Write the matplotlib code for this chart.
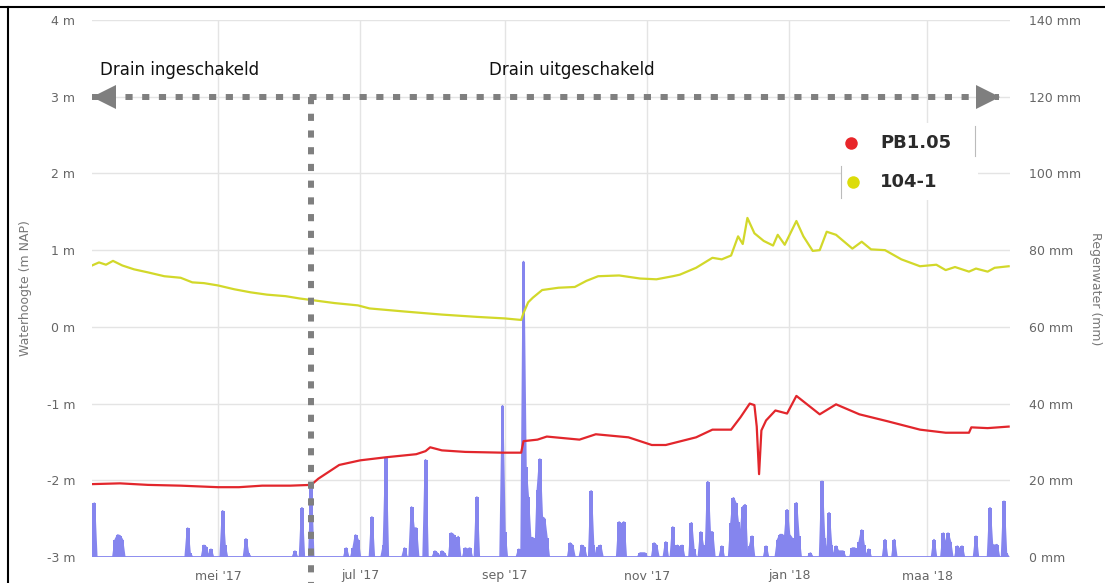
import matplotlib
matplotlib.use("Agg")
import matplotlib.pyplot as plt
import pandas as pd
from matplotlib.transforms import offset_copy
from matplotlib.lines import Line2D
from matplotlib.patches import Rectangle

# --- data ---
pb_dates = ['2017-03-08', '2017-03-20', '2017-04-01', '2017-04-15', '2017-05-01', '2017-05-10',
            '2017-05-20', '2017-06-01', '2017-06-10', '2017-06-13', '2017-06-22', '2017-07-01',
            '2017-07-12', '2017-07-25', '2017-07-29', '2017-07-31', '2017-08-05', '2017-08-15',
            '2017-08-31', '2017-09-08', '2017-09-09', '2017-09-15', '2017-09-19', '2017-10-03',
            '2017-10-10', '2017-10-24', '2017-10-27', '2017-11-03', '2017-11-09', '2017-11-22',
            '2017-11-29', '2017-12-07', '2017-12-11', '2017-12-15', '2017-12-17', '2017-12-18',
            '2017-12-19', '2017-12-20', '2017-12-22', '2017-12-26', '2017-12-31', '2018-01-04',
            '2018-01-14', '2018-01-21', '2018-01-31', '2018-02-12', '2018-02-26', '2018-03-09',
            '2018-03-19', '2018-03-20', '2018-03-27', '2018-04-05']
pb_level = [-2.05, -2.04, -2.06, -2.07, -2.09, -2.09,
            -2.07, -2.07, -2.06, -1.98, -1.80, -1.74,
            -1.70, -1.66, -1.62, -1.57, -1.61, -1.63,
            -1.64, -1.64, -1.49, -1.47, -1.43, -1.47,
            -1.40, -1.44, -1.47, -1.54, -1.54, -1.44,
            -1.34, -1.34, -1.18, -1.00, -1.02, -1.30,
            -1.92, -1.35, -1.22, -1.09, -1.13, -0.90,
            -1.14, -1.01, -1.14, -1.23, -1.34, -1.38,
            -1.38, -1.31, -1.32, -1.30]

w104_dates = ['2017-03-08', '2017-03-11', '2017-03-14', '2017-03-17', '2017-03-21', '2017-03-26',
              '2017-04-01', '2017-04-08', '2017-04-15', '2017-04-20', '2017-04-25', '2017-05-01',
              '2017-05-08', '2017-05-15', '2017-05-22', '2017-05-30', '2017-06-05', '2017-06-10',
              '2017-06-20', '2017-06-30', '2017-07-05', '2017-07-20', '2017-08-05', '2017-08-20',
              '2017-09-01', '2017-09-08', '2017-09-09', '2017-09-11', '2017-09-13', '2017-09-17',
              '2017-09-24', '2017-10-01', '2017-10-06', '2017-10-11', '2017-10-20', '2017-10-29',
              '2017-11-05', '2017-11-12', '2017-11-15', '2017-11-22', '2017-11-29', '2017-12-03',
              '2017-12-07', '2017-12-10', '2017-12-12', '2017-12-14', '2017-12-17', '2017-12-21',
              '2017-12-25', '2017-12-27', '2017-12-30', '2018-01-04', '2018-01-07', '2018-01-11',
              '2018-01-14', '2018-01-17', '2018-01-21', '2018-01-28', '2018-02-01', '2018-02-05',
              '2018-02-11', '2018-02-18', '2018-02-26', '2018-03-05', '2018-03-09', '2018-03-13',
              '2018-03-19', '2018-03-22', '2018-03-27', '2018-03-30', '2018-04-05']
w104_level = [0.80, 0.84, 0.81, 0.86, 0.80, 0.75,
              0.71, 0.66, 0.64, 0.58, 0.57, 0.54,
              0.49, 0.45, 0.42, 0.40, 0.37, 0.35,
              0.31, 0.28, 0.24, 0.20, 0.16, 0.13,
              0.11, 0.09, 0.18, 0.32, 0.38, 0.48,
              0.51, 0.52, 0.60, 0.66, 0.67, 0.63,
              0.62, 0.66, 0.68, 0.77, 0.90, 0.88,
              0.93, 1.18, 1.08, 1.42, 1.22, 1.12,
              1.06, 1.20, 1.07, 1.38, 1.18, 0.99,
              1.00, 1.24, 1.20, 1.02, 1.11, 1.01,
              1.00, 0.88, 0.79, 0.81, 0.74, 0.78,
              0.72, 0.76, 0.72, 0.77, 0.79]

rain_dates = ['2017-03-09', '2017-03-18', '2017-03-19', '2017-03-20', '2017-03-21', '2017-04-18',
              '2017-04-19', '2017-04-25', '2017-04-26', '2017-04-28', '2017-05-03', '2017-05-04',
              '2017-05-13', '2017-05-14', '2017-06-03', '2017-06-06', '2017-06-10', '2017-06-25',
              '2017-06-28', '2017-06-29', '2017-06-30', '2017-07-06', '2017-07-11', '2017-07-12',
              '2017-07-20', '2017-07-23', '2017-07-24', '2017-07-25', '2017-07-29', '2017-08-02',
              '2017-08-03', '2017-08-05', '2017-08-06', '2017-08-09', '2017-08-10', '2017-08-12',
              '2017-08-15', '2017-08-16', '2017-08-17', '2017-08-20', '2017-08-31', '2017-09-01',
              '2017-09-07', '2017-09-09', '2017-09-10', '2017-09-11', '2017-09-12', '2017-09-13',
              '2017-09-15', '2017-09-16', '2017-09-17', '2017-09-18', '2017-09-19', '2017-09-29',
              '2017-09-30', '2017-10-04', '2017-10-05', '2017-10-08', '2017-10-09', '2017-10-11',
              '2017-10-12', '2017-10-20', '2017-10-21', '2017-10-22', '2017-10-29', '2017-10-30',
              '2017-10-31', '2017-11-04', '2017-11-05', '2017-11-09', '2017-11-12', '2017-11-14',
              '2017-11-15', '2017-11-16', '2017-11-20', '2017-11-21', '2017-11-24', '2017-11-25',
              '2017-11-27', '2017-11-28', '2017-11-29', '2017-12-03', '2017-12-07', '2017-12-08',
              '2017-12-09', '2017-12-10', '2017-12-11', '2017-12-12', '2017-12-13', '2017-12-15',
              '2017-12-16', '2017-12-22', '2017-12-27', '2017-12-28', '2017-12-29', '2017-12-30',
              '2017-12-31', '2018-01-01', '2018-01-02', '2018-01-04', '2018-01-05', '2018-01-10',
              '2018-01-15', '2018-01-16', '2018-01-18', '2018-01-19', '2018-01-21', '2018-01-22',
              '2018-01-23', '2018-01-24', '2018-01-28', '2018-01-29', '2018-01-31', '2018-02-01',
              '2018-02-02', '2018-02-04', '2018-02-11', '2018-02-15', '2018-03-04', '2018-03-08',
              '2018-03-09', '2018-03-10', '2018-03-11', '2018-03-14', '2018-03-15', '2018-03-16',
              '2018-03-22', '2018-03-28', '2018-03-29', '2018-03-30', '2018-03-31', '2018-04-03',
              '2018-04-04']
rain_mm = [14.0, 4.5, 5.7, 5.5, 4.5, 7.5,
           1.0, 3.0, 2.5, 2.0, 12.0, 3.0,
           4.7, 1.0, 1.5, 12.8, 18.0, 2.3,
           2.3, 5.7, 4.5, 10.4, 3.0, 25.8,
           2.3, 13.0, 7.5, 7.5, 25.3, 1.5,
           1.0, 1.5, 1.0, 6.2, 5.8, 5.3,
           2.3, 2.0, 2.3, 15.6, 39.4, 6.5,
           2.0, 77.0, 23.5, 15.6, 5.0, 5.0,
           17.5, 25.5, 10.4, 10.0, 5.0, 3.6,
           3.0, 3.0, 2.5, 17.2, 3.0, 2.5,
           3.0, 9.1, 8.5, 9.1, 1.0, 1.0,
           1.0, 3.6, 3.0, 3.9, 7.8, 3.0,
           2.5, 3.0, 8.9, 2.0, 6.5, 3.0,
           19.6, 6.5, 6.5, 2.8, 8.9, 15.4,
           14.0, 9.0, 5.4, 13.0, 13.6, 2.8,
           5.4, 2.8, 4.5, 5.8, 5.8, 5.0,
           12.3, 5.8, 5.0, 14.1, 5.4, 1.0,
           19.7, 5.0, 11.5, 3.0, 2.8, 1.5,
           1.5, 1.5, 2.3, 2.3, 4.0, 7.0,
           3.0, 2.0, 4.5, 4.5, 4.5, 6.2,
           3.0, 6.2, 4.0, 2.8, 2.0, 2.8,
           5.4, 12.8, 3.2, 3.0, 3.2, 14.5,
           1.0]

tick_dates = ['2017-05-01', '2017-07-01', '2017-09-01', '2017-11-01', '2018-01-01', '2018-03-01']
tick_labels = ["mei '17", "jul '17", "sep '17", "nov '17", "jan '18", "maa '18"]
left_ticks = [-3, -2, -1, 0, 1, 2, 3, 4]
right_ticks = [0, 20, 40, 60, 80, 100, 120, 140]

drain_switch = '2017-06-10'
arrow_left = '2017-03-08'
arrow_right = '2018-04-01'

# daily rain series
days = pd.date_range('2017-03-08', '2018-04-05', freq='D')
rain = pd.Series(rain_mm, index=pd.to_datetime(rain_dates)).reindex(days, fill_value=0.0)

RED = '#e2262c'
YELLOW = '#d2d82a'
BLUE = '#8585ee'
GRID = '#e4e4e4'
TXT = '#666666'
ARROW = '#7f7f7f'

fig = plt.figure(figsize=(11.05, 5.83), dpi=100)
ax = fig.add_axes([92 / 1105, 26 / 583, 918 / 1105, 537 / 583])
ax2 = ax.twinx()
ax.set_zorder(2)
ax2.set_zorder(1)
ax.patch.set_visible(False)

xmin = pd.Timestamp('2017-03-08')
xmax = pd.Timestamp('2018-04-05 14:00')

# rain on the right axis
ax2.bar(rain.index, rain.values, width=1.7, color=BLUE, zorder=2, linewidth=0)
ax2.plot(rain.index, rain.values, color=BLUE, lw=1.3, zorder=2)
ax2.set_ylim(0, 140)
ax2.set_yticks(right_ticks)
ax2.set_yticklabels([f'{v} mm' for v in right_ticks])
ax2.grid(axis='y', color=GRID, lw=1, zorder=0)
for d in tick_dates:
    ax2.axvline(pd.Timestamp(d), color=GRID, lw=1, zorder=0)

# water levels on the left axis
ax.plot(pd.to_datetime(w104_dates), w104_level, color=YELLOW, lw=1.6, zorder=3)
ax.plot(pd.to_datetime(pb_dates), pb_level, color=RED, lw=1.6, zorder=3)
ax.set_ylim(-3, 4)
ax.set_yticks(left_ticks)
ax.set_yticklabels([f'{v} m' for v in left_ticks])
ax.set_xlim(xmin, xmax)
ax.set_xticks(pd.to_datetime(tick_dates))
ax.set_xticklabels(tick_labels)

for a in (ax, ax2):
    for s in a.spines.values():
        s.set_visible(False)
    a.tick_params(length=0, labelsize=9, labelcolor=TXT)
ax.tick_params(axis='y', pad=12)
ax.tick_params(axis='x', pad=9)
ax2.tick_params(axis='y', pad=14)

ax.set_ylabel('Waterhoogte (m NAP)', color='#777777', fontsize=9, labelpad=11)
ax2.set_ylabel('Regenwater (mm)', color='#777777', fontsize=9, rotation=270, labelpad=15)

# drain annotations: dotted lines with arrow heads
dash = dict(color=ARROW, lw=4.3, linestyle=(0, (1.2, 1.6)), dash_capstyle='butt', zorder=5)
ax.plot([pd.Timestamp(arrow_left), pd.Timestamp(arrow_right)], [3, 3], **dash)
ax.plot([pd.Timestamp(drain_switch)] * 2, [3, -3.45], clip_on=False, **dash)
tr_l = offset_copy(ax.transData, fig=fig, x=8.3, y=0, units='points')
tr_r = offset_copy(ax.transData, fig=fig, x=-8.3, y=0, units='points')
ax.plot([pd.Timestamp(arrow_left)], [3], marker='<', ms=16.6, mew=0, color=ARROW, transform=tr_l, zorder=6)
ax.plot([pd.Timestamp(arrow_right)], [3], marker='>', ms=16.6, mew=0, color=ARROW, transform=tr_r, zorder=6)

ax.text((100 - 92) / 918, (557 - 70) / 537, 'Drain ingeschakeld', transform=ax.transAxes,
        fontsize=12, color='#111111', va='center', ha='left')
ax.text((489 - 92) / 918, (557 - 70) / 537, 'Drain uitgeschakeld', transform=ax.transAxes,
        fontsize=12, color='#111111', va='center', ha='left')

# legend box (pasted in the reference)
ax.add_patch(Rectangle(((842 - 92) / 918, (557 - 200) / 537), 136 / 918, 77 / 537,
                       transform=ax.transAxes, facecolor='white', edgecolor='none', zorder=7))
ax.add_line(Line2D([(975 - 92) / 918] * 2, [(557 - 156) / 537, (557 - 126) / 537],
                   transform=ax.transAxes, color='#bbbbbb', lw=0.8, zorder=8))
ax.add_line(Line2D([(841 - 92) / 918] * 2, [(557 - 198) / 537, (557 - 166) / 537],
                   transform=ax.transAxes, color='#bbbbbb', lw=0.8, zorder=8))
ax.plot([(851 - 92) / 918], [(557 - 143) / 537], 'o', ms=9, color='#e8262a', mew=0,
        transform=ax.transAxes, zorder=8)
ax.plot([(853 - 92) / 918], [(557 - 182) / 537], 'o', ms=9, color='#dcdc0a', mew=0,
        transform=ax.transAxes, zorder=8)
ax.text((880 - 92) / 918, (557 - 143) / 537, 'PB1.05', transform=ax.transAxes, fontsize=13,
        fontweight='bold', color='#2b2b2b', va='center', ha='left', zorder=8)
ax.text((880 - 92) / 918, (557 - 182) / 537, '104-1', transform=ax.transAxes, fontsize=13,
        fontweight='bold', color='#2b2b2b', va='center', ha='left', zorder=8)

# outer frame edges visible in the reference
fig.add_artist(Line2D([0, 1], [1 - 6.5 / 583] * 2, color='black', lw=1.5))
fig.add_artist(Line2D([8 / 1105] * 2, [0, 1 - 6.5 / 583], color='black', lw=1.5))

fig.savefig('out.png', dpi=100, facecolor='white')
